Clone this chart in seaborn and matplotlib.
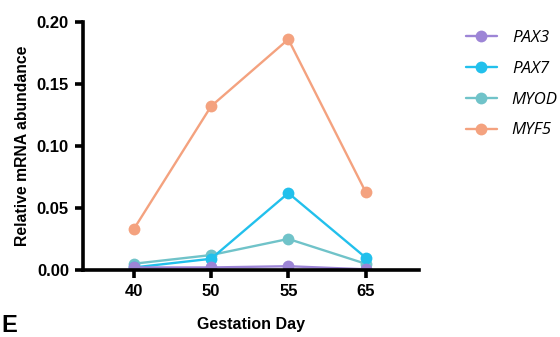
import matplotlib
matplotlib.use("Agg")
import matplotlib.pyplot as plt
import seaborn as sns
import pandas as pd

days = ["40", "50", "55", "65"]
genes = ["PAX3", "PAX7", "MYOD", "MYF5"]
pax3 = [0.002, 0.002, 0.003, 0.0005]
pax7 = [0.002, 0.009, 0.062, 0.010]
myod = [0.005, 0.012, 0.025, 0.005]
myf5 = [0.033, 0.132, 0.186, 0.063]
colors = ["#9d85d6", "#22c0ec", "#70c3c9", "#f4a27f"]
yticks = [0.00, 0.05, 0.10, 0.15, 0.20]

rows = []
for g, vals in zip(genes, [pax3, pax7, myod, myf5]):
    for d, v in zip(days, vals):
        rows.append({"Gestation Day": d, "value": v, "gene": g})
df = pd.DataFrame(rows)

sns.set_theme(style="white")
plt.rcParams['font.family'] = ['Liberation Sans', 'DejaVu Sans']
plt.rcParams['text.color'] = 'black'
plt.rcParams['axes.labelcolor'] = 'black'
plt.rcParams['xtick.color'] = 'black'
plt.rcParams['ytick.color'] = 'black'

fig = plt.figure(figsize=(5.6, 3.37), dpi=100)
ax = fig.add_axes([0.148, 0.199, 0.600, 0.736])

for g, c in zip(genes[::-1], colors[::-1]):
    sub = df[df.gene == g]
    sns.lineplot(data=sub, x="Gestation Day", y="value", color=c, marker="o",
                 markersize=8.5, markeredgewidth=0, linewidth=1.7, ax=ax,
                 sort=False, label=g)

ax.set_xlim(-0.66, 3.69)
ax.set_ylim(0, 0.20)
ax.set_yticks(yticks)
ax.set_yticklabels([f"{t:.2f}" for t in yticks], fontsize=12, fontweight="bold")
ax.set_xticks(range(len(days)))
ax.set_xticklabels(days, fontsize=12, fontweight="bold")
ax.set_ylabel("Relative mRNA abundance", fontsize=11.3, fontweight="semibold", labelpad=5)
ax.set_xlabel("Gestation Day", fontsize=11.5, fontweight="semibold", labelpad=13)

for s in ["top", "right"]:
    ax.spines[s].set_visible(False)
for s in ["left", "bottom"]:
    ax.spines[s].set_linewidth(2.6)
    ax.spines[s].set_color("black")
ax.tick_params(axis="both", direction="out", length=6, width=2.6, color="black",
               left=True, bottom=True, pad=4)

handles, labels = ax.get_legend_handles_labels()
hmap = dict(zip(labels, handles))
leg = ax.legend([hmap[g] for g in genes], genes, loc="upper left",
                bbox_to_anchor=(1.095, 1.03), frameon=False, handlelength=1.8,
                handletextpad=0.9, labelspacing=0.88,
                prop={"style": "italic", "size": 12.2, "family": "Open Sans"})

fig.text(0.003, 0.0, "E", fontsize=17, fontweight="bold", va="bottom", ha="left")

fig.savefig("out.png", dpi=100)
